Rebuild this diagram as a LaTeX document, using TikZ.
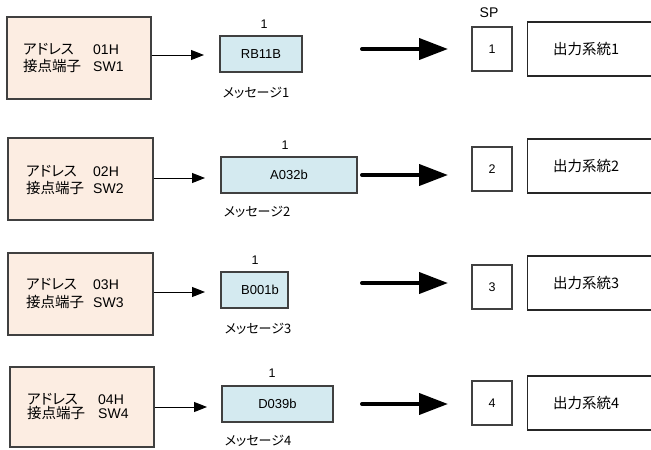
\documentclass[tikz,border=0pt]{standalone}
\usepackage{fontspec}
\setmainfont{Liberation Sans}
\newfontfamily\jpfont[RawFeature=+palt]{Noto Sans CJK JP}
\usetikzlibrary{arrows.meta}
\definecolor{addrfill}{RGB}{252,237,226}
\definecolor{msgfill}{RGB}{212,234,240}
\definecolor{edgegray}{RGB}{64,64,64}
\begin{document}
\begin{tikzpicture}[x=1pt,y=-1pt,
  addrbox/.style={draw=edgegray, fill=addrfill, line width=1.2pt, minimum width=144pt, minimum height=82pt, inner sep=0pt},
  msgbox/.style={draw=edgegray, fill=msgfill, line width=1.2pt, minimum height=36pt, inner sep=0pt, font=\fontsize{13}{15}\selectfont},
  spbox/.style={draw=edgegray, line width=1.2pt, minimum width=40pt, minimum height=44pt, inner sep=0pt, font=\fontsize{12.5}{14}\selectfont},
  outbox/.style={draw=black!85, line width=1.3pt, minimum width=150pt, minimum height=54pt, inner sep=0pt, anchor=west},
  jpbig/.style={inner sep=0pt, anchor=base west, font=\jpfont\fontsize{14.5}{16}\selectfont},
  latbig/.style={inner sep=0pt, anchor=base west, font=\fontsize{14}{16}\selectfont},
  jpmsg/.style={inner sep=0pt, font=\jpfont\fontsize{13}{14}\selectfont},
  smalllbl/.style={inner sep=0pt, font=\fontsize{12.5}{14}\selectfont},
  thinarrow/.style={line width=1pt, -{Triangle[length=13pt,width=10pt]}},
  thickarrow/.style={line width=4pt, line cap=round, -{Triangle[length=29pt,width=21pt]}}
]
\clip (0,0) rectangle (651,450);
\fill[white] (0,0) rectangle (651,450);

\node[smalllbl, font=\fontsize{14}{16}\selectfont] (sp) at (489,13) {SP};

% ---------- Row 1 ----------
\node[addrbox] (addr1) at (79,58) {};
\node[jpbig] (ad1) at (23,54) {アドレス};
\node[jpbig] (ct1) at (23,71) {接点端子};
\node[latbig] (h1) at (93,54) {01H};
\node[latbig] (s1) at (93,71) {SW1};
\node[msgbox, minimum width=82pt] (msg1) at (261,54) {RB11B};
\node[smalllbl] (n1) at (264,24) {1};
\node[jpmsg] (m1) at (256,93) {メッセージ1};
\coordinate (a1) at (204,55);
\draw[thinarrow] (addr1.east |- a1) -- (a1);
\coordinate (bs1) at (362,49);
\coordinate (be1) at (448,49);
\draw[thickarrow] (bs1) -- (be1);
\node[spbox] (sp1) at (492,49) {1};
\node[outbox] (out1) at (527,49) {};
\node[jpbig, anchor=west] (o1) at (553,49) {出力系統1};

% ---------- Row 2 ----------
\node[addrbox, minimum width=145pt] (addr2) at (80.5,179) {};
\node[jpbig] (ad2) at (26,176) {アドレス};
\node[jpbig] (ct2) at (26,193) {接点端子};
\node[latbig] (h2) at (93,176) {02H};
\node[latbig] (s2) at (93,193) {SW2};
\node[msgbox, minimum width=136pt] (msg2) at (289,175) {A032b};
\node[smalllbl] (n2) at (285,145) {1};
\node[jpmsg] (m2) at (257,212) {メッセージ2};
\coordinate (a2) at (205,178);
\draw[thinarrow] (addr2.east |- a2) -- (a2);
\coordinate (bs2) at (362,175);
\coordinate (be2) at (448,175);
\draw[thickarrow] (bs2) -- (be2);
\node[spbox] (sp2) at (492,169) {2};
\node[outbox] (out2) at (527,166) {};
\node[jpbig, anchor=west] (o2) at (553,166) {出力系統2};

% ---------- Row 3 ----------
\node[addrbox, minimum width=145pt] (addr3) at (80.5,294) {};
\node[jpbig] (ad3) at (26,289) {アドレス};
\node[jpbig] (ct3) at (26,307) {接点端子};
\node[latbig] (h3) at (93,289) {03H};
\node[latbig] (s3) at (93,307) {SW3};
\node[msgbox, minimum width=67pt] (msg3) at (254.5,290) {};
\node[smalllbl, font=\fontsize{13}{15}\selectfont] (t3) at (260,290) {B001b};
\node[smalllbl] (n3) at (255,260) {1};
\node[jpmsg] (m3) at (258,329) {メッセージ3};
\coordinate (a3) at (205,292);
\draw[thinarrow] (addr3.east |- a3) -- (a3);
\coordinate (bs3) at (362,283);
\coordinate (be3) at (448,283);
\draw[thickarrow] (bs3) -- (be3);
\node[spbox] (sp3) at (492,287) {3};
\node[outbox] (out3) at (527,283) {};
\node[jpbig, anchor=west] (o3) at (553,283) {出力系統3};

% ---------- Row 4 ----------
\node[addrbox, minimum height=80pt] (addr4) at (82,407) {};
\node[jpbig] (ad4) at (27,404) {アドレス};
\node[jpbig] (ct4) at (27,418) {接点端子};
\node[latbig] (h4) at (98,404) {04H};
\node[latbig] (s4) at (98,418) {SW4};
\node[msgbox, minimum width=111pt] (msg4) at (277.5,404) {D039b};
\node[smalllbl] (n4) at (272,373) {1};
\node[jpmsg] (m4) at (258,441) {メッセージ4};
\coordinate (a4) at (207,407);
\draw[thinarrow] (addr4.east |- a4) -- (a4);
\coordinate (bs4) at (362,404);
\coordinate (be4) at (448,404);
\draw[thickarrow] (bs4) -- (be4);
\node[spbox] (sp4) at (492,403) {4};
\node[outbox] (out4) at (527,403) {};
\node[jpbig, anchor=west] (o4) at (553,403) {出力系統4};
\end{tikzpicture}
\end{document}
